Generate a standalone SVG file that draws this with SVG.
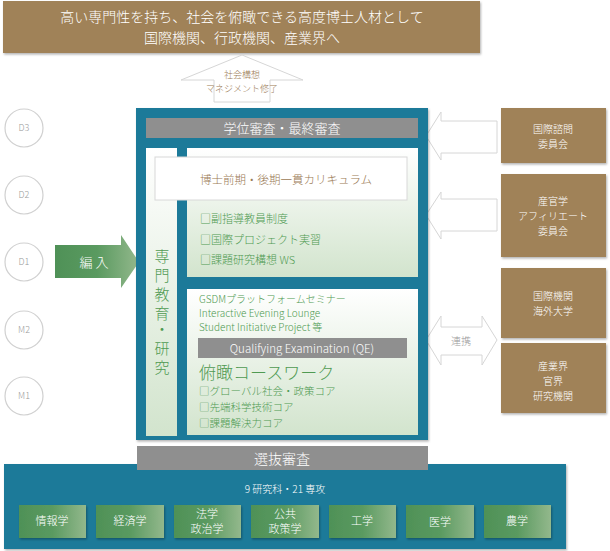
<svg xmlns="http://www.w3.org/2000/svg" width="610" height="551" viewBox="0 0 610 551">
<defs>
<linearGradient id="pg" x1="0" y1="0" x2="0" y2="1"><stop offset="0" stop-color="#ffffff"/><stop offset="1" stop-color="#d2e4cd"/></linearGradient>
<linearGradient id="gb" x1="0" y1="0" x2="1" y2="0"><stop offset="0" stop-color="#4f9157"/><stop offset="0.5" stop-color="#5a9a60"/><stop offset="1" stop-color="#93b88c"/></linearGradient>
<filter id="sh" x="-5%" y="-5%" width="110%" height="115%"><feDropShadow dx="1" dy="1.5" stdDeviation="1" flood-color="#000" flood-opacity="0.3"/></filter>
</defs>
<style>
text{font-family:"Noto Sans CJK JP","Noto Sans",sans-serif;font-weight:300}
.w{fill:#fff}
.br{fill:#a08258}
.teal{fill:#1f7a99}
.gray{fill:#8f8f8f}
.g{fill:#4f9a52}
.c{text-anchor:middle}
.circ{fill:#fff;stroke:#d0d0d0;stroke-width:1.2}
.ct{fill:#999;font-size:9px;text-anchor:middle}
.wa{fill:#fff;stroke:#d6d6d6;stroke-width:1}
</style>
<g id="goal"><rect x="3" y="1" width="477" height="52" class="br" filter="url(#sh)"/>
<text x="242" y="22" class="w c" font-size="14">高い専門性を持ち、社会を俯瞰できる高度博士人材として</text>
<text x="242" y="43" class="w c" font-size="14">国際機関、行政機関、産業界へ</text></g>
<g id="connectors">
<path class="wa" d="M242 55 L303 80 L270 80 L270 102 L214 102 L214 80 L181 80 Z"/>
<text x="242" y="78" class="c" font-size="9" fill="#9a7a55">社会構想</text>
<text x="242" y="92" class="c" font-size="9" fill="#9a7a55">マネジメント修了</text>
<path class="wa" d="M426 136 L441 112 L441 121 L497 121 L497 153 L441 153 L441 160 Z"/>
<path class="wa" d="M426 215 L441 192 L441 199 L497 199 L497 231 L441 231 L441 239 Z"/>
<path class="wa" d="M426 340 L441 316 L441 327 L482 327 L482 316 L497 340 L482 365 L482 355 L441 355 L441 365 Z"/>
<text x="461" y="345" class="c" font-size="10" fill="#999">連携</text>
<path fill="url(#gb)" d="M55 245 L121 245 L121 235 L139 262 L121 288 L121 278 L55 278 Z"/>
<text x="94" y="267" class="w c" font-size="13">編 入</text>
</g>
<g id="years">
<circle cx="24" cy="128" r="19" class="circ"/><text x="24" y="131" class="ct">D3</text>
<circle cx="24" cy="195" r="19" class="circ"/><text x="24" y="198" class="ct">D2</text>
<circle cx="24" cy="262" r="19" class="circ"/><text x="24" y="265" class="ct">D1</text>
<circle cx="24" cy="330" r="19" class="circ"/><text x="24" y="333" class="ct">M2</text>
<circle cx="24" cy="396" r="19" class="circ"/><text x="24" y="399" class="ct">M1</text>
</g>
<g id="main">
<rect x="136" y="108" width="292" height="332" class="teal" filter="url(#sh)"/>
<rect x="146" y="118" width="272" height="20" class="gray"/>
<text x="282" y="133" class="w c" font-size="13">学位審査・最終審査</text>
<rect x="146" y="148" width="31" height="288" fill="url(#pg)"/>
<g font-size="15">
<text x="162" y="262" class="g c">専</text><text x="162" y="281" class="g c">門</text><text x="162" y="300" class="g c">教</text><text x="162" y="319" class="g c">育</text><text x="162" y="335" class="g c">・</text><text x="162" y="354" class="g c">研</text><text x="162" y="373" class="g c">究</text>
</g>
<rect x="187" y="148" width="231" height="129" fill="url(#pg)"/>
<rect x="155" y="157" width="252" height="43" fill="#fff" stroke="#d8d8d8"/>
<text x="286" y="184" class="c" font-size="11.5" fill="#9a7a55">博士前期・後期一貫カリキュラム</text>
<text x="200" y="223" class="g" font-size="11">□副指導教員制度</text>
<text x="200" y="244" class="g" font-size="11">□国際プロジェクト実習</text>
<text x="200" y="264" class="g" font-size="11">□課題研究構想 WS</text>
<rect x="187" y="289" width="231" height="146" fill="url(#pg)"/>
<text x="199" y="303" class="g" font-size="10">GSDMプラットフォームセミナー</text>
<text x="199" y="317" class="g" font-size="10">Interactive Evening Lounge</text>
<text x="199" y="331" class="g" font-size="10">Student Initiative Project  等</text>
<rect x="198" y="338" width="209" height="20" class="gray"/>
<text x="302" y="353" class="w c" font-size="11.5">Qualifying Examination (QE)</text>
<text x="199" y="379" class="g" font-size="17">俯瞰コースワーク</text>
<text x="199" y="395" class="g" font-size="10.5">□グローバル社会・政策コア</text>
<text x="199" y="411" class="g" font-size="10.5">□先端科学技術コア</text>
<text x="199" y="427" class="g" font-size="10.5">□課題解決力コア</text>
</g>
<g id="partners">
<rect x="501" y="108" width="105" height="55" class="br" filter="url(#sh)"/>
<text x="553" y="133" class="w c" font-size="10">国際諮問</text><text x="553" y="148" class="w c" font-size="10">委員会</text>
<rect x="501" y="174" width="105" height="83" class="br" filter="url(#sh)"/>
<text x="553" y="205" class="w c" font-size="10">産官学</text><text x="553" y="220" class="w c" font-size="10">アフィリエート</text><text x="553" y="235" class="w c" font-size="10">委員会</text>
<rect x="501" y="268" width="105" height="70" class="br" filter="url(#sh)"/>
<text x="553" y="300" class="w c" font-size="10">国際機関</text><text x="553" y="315" class="w c" font-size="10">海外大学</text>
<rect x="501" y="343" width="105" height="70" class="br" filter="url(#sh)"/>
<text x="553" y="370" class="w c" font-size="10">産業界</text><text x="553" y="385" class="w c" font-size="10">官界</text><text x="553" y="400" class="w c" font-size="10">研究機関</text>
</g>
<g id="schools">
<rect x="4" y="464" width="562" height="85" class="teal" filter="url(#sh)"/>
<rect x="137" y="446" width="291" height="24" class="gray"/>
<text x="282" y="464" class="w c" font-size="14">選抜審査</text>
<text x="285" y="493" class="w c" font-size="10">9 研究科・21 専攻</text>
<g font-size="11">
<rect x="19" y="505" width="67" height="33" fill="url(#gb)" filter="url(#sh)"/><text x="52" y="525" class="w c">情報学</text>
<rect x="96" y="505" width="68" height="33" fill="url(#gb)" filter="url(#sh)"/><text x="130" y="525" class="w c">経済学</text>
<rect x="174" y="505" width="67" height="33" fill="url(#gb)" filter="url(#sh)"/><text x="207" y="518" class="w c">法学</text><text x="207" y="533" class="w c">政治学</text>
<rect x="251" y="505" width="68" height="33" fill="url(#gb)" filter="url(#sh)"/><text x="285" y="518" class="w c">公共</text><text x="285" y="533" class="w c">政策学</text>
<rect x="329" y="505" width="67" height="33" fill="url(#gb)" filter="url(#sh)"/><text x="362" y="525" class="w c">工学</text>
<rect x="406" y="505" width="68" height="33" fill="url(#gb)" filter="url(#sh)"/><text x="440" y="526" class="w c">医学</text>
<rect x="484" y="505" width="67" height="33" fill="url(#gb)" filter="url(#sh)"/><text x="517" y="525" class="w c">農学</text>
</g>
</g>
</svg>
